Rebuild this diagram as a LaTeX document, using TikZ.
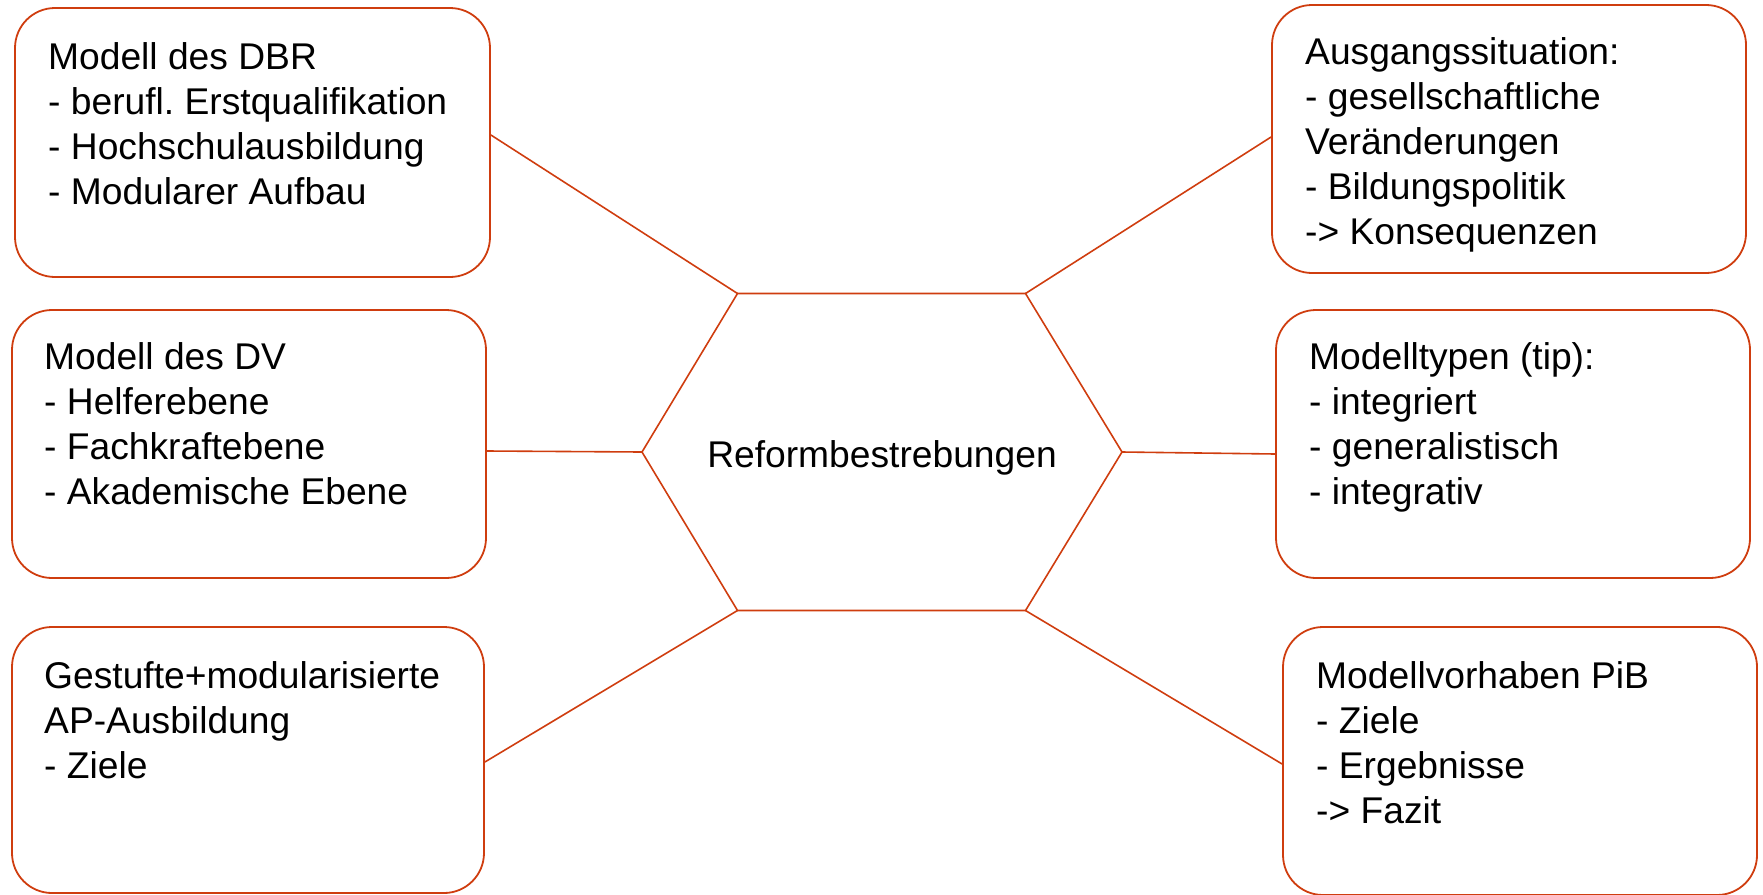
\documentclass[tikz,border=0pt]{standalone}
\usepackage{fontspec}
\setmainfont{Liberation Sans}
\frenchspacing
\definecolor{linered}{RGB}{207,61,15}
\begin{document}
\begin{tikzpicture}[x=1pt,y=-1pt,
  box/.style={draw=linered, line width=1.8pt, rounded corners=40pt, rectangle, inner sep=0pt},
  label/.style={anchor=north west, inner sep=0pt, align=left, font=\fontsize{37.2}{45}\selectfont},
  conn/.style={draw=linered, line width=1.6pt}]
\useasboundingbox (0,0) rectangle (1763,894);
% boxes
\node[box, minimum width=475pt, minimum height=269pt] (b1) at (252.5,142.5) {};
\node[box, minimum width=474pt, minimum height=268pt] (b2) at (249,444) {};
\node[box, minimum width=472pt, minimum height=266pt] (b3) at (248,760) {};
\node[box, minimum width=474pt, minimum height=268pt] (b4) at (1509,139) {};
\node[box, minimum width=474pt, minimum height=268pt] (b5) at (1513,444) {};
\node[box, minimum width=474pt, minimum height=268pt] (b6) at (1520,761) {};
% texts
\node[label] (t1) at (48,42.5) {Modell des DBR\\- berufl. Erstqualifikation\\- Hochschulausbildung\\- Modularer Aufbau};
\node[label] (t2) at (44,342.5) {Modell des DV\\- Helferebene\\- Fachkraftebene\\- Akademische Ebene};
\node[label] (t3) at (44,661.5) {Gestufte+modularisierte\\AP-Ausbildung\\- Ziele};
\node[label] (t4) at (1305,37.5) {Ausgangssituation:\\- gesellschaftliche\\Veränderungen\\- Bildungspolitik\\-> Konsequenzen};
\node[label] (t5) at (1309,342.5) {Modelltypen (tip):\\- integriert\\- generalistisch\\- integrativ};
\node[label] (t6) at (1316,661.5) {Modellvorhaben PiB\\- Ziele\\- Ergebnisse\\-> Fazit};
% hexagon
\coordinate (h1) at (737.5,293.5);
\coordinate (h2) at (1025.5,293.5);
\coordinate (h3) at (1122,452);
\coordinate (h4) at (1025.5,610.5);
\coordinate (h5) at (737.5,610.5);
\coordinate (h6) at (642,452);
\draw[conn] (h1) -- (h2) -- (h3) -- (h4) -- (h5) -- (h6) -- cycle;
\node[anchor=base, inner sep=0pt, font=\fontsize{37.2}{45}\selectfont] (center) at (882,467) {Reformbestrebungen};
% connectors
\draw[conn] ([yshift=7.5pt]b1.east) -- (h1);
\draw[conn] ([yshift=-7pt]b2.east) -- (h6);
\draw[conn] ([yshift=-2pt]b3.east) -- (h5);
\draw[conn] ([yshift=2pt]b4.west) -- (h2);
\draw[conn] ([yshift=-10pt]b5.west) -- (h3);
\draw[conn] ([yshift=-3pt]b6.west) -- (h4);
\end{tikzpicture}
\end{document}
